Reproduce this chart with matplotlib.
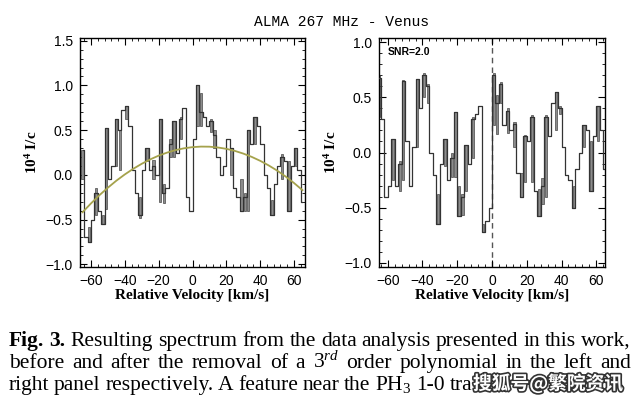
import numpy as np
import matplotlib
matplotlib.use("Agg")
import matplotlib.pyplot as plt
import matplotlib.patheffects as pe
from matplotlib.ticker import MultipleLocator

plt.rcParams['font.family'] = ['Liberation Sans', 'DejaVu Sans']
plt.rcParams['mathtext.fontset'] = 'custom'
plt.rcParams['mathtext.rm'] = 'Liberation Serif'
plt.rcParams['mathtext.it'] = 'Liberation Serif:italic'
plt.rcParams['mathtext.bf'] = 'Liberation Serif:bold'

# channel grid (km/s)
velocity = np.arange(-65, 66, 2)

# left panel: spectrum before polynomial removal
left_flux = [0.28, -0.70, -0.75, -0.50, -0.20, -0.40, -0.55, 0.52, -0.05, 0.10,
             0.63, 0.50, 0.72, 0.77, 0.55, 0.05, -0.20, -0.45, 0.05, 0.30,
             0.05, 0.10, 0.00, 0.62, -0.20, -0.15, 0.35, 0.60, 0.25, 0.62,
             0.75, -0.25, -0.40, 0.40, 1.00, 0.70, 0.65, 0.55, 0.60, 0.45,
             0.20, 0.00, 0.10, 0.40, 0.30, -0.15, -0.25, -0.40, -0.25, 0.50,
             0.35, 0.65, 0.55, 0.35, 0.00, -0.15, -0.45, -0.10, 0.10, 0.20,
             0.15, -0.40, 0.10, 0.30, 0.05, -0.30]
left_bar_v = [-65, -61, -57, -53, -51, -45, -43, -39, -31, -27, -23, -19, -17, -13, -11,
              -7, 3, 5, 11, 13, 23, 29, 31, 33, 37, 47, 53, 57, 61]
left_bar_lo = [-0.05, -0.75, -0.45, -0.55, -0.38, 0.10, 0.05, 0.62, -0.48, 0.15, -0.05, -0.30,
               -0.32, 0.20, 0.20, 0.40, 0.55, 0.55, 0.48, 0.30, 0.00, -0.40, -0.40, -0.40,
               0.35, -0.45, -0.05, -0.40, 0.10]
left_bar_hi = [0.28, -0.58, -0.15, -0.45, 0.52, 0.63, 0.50, 0.77, -0.25, 0.30, 0.17, 0.62,
               -0.10, 0.40, 0.60, 0.65, 1.00, 0.92, 0.62, 0.50, 0.30, -0.05, -0.20, 0.50,
               0.65, -0.28, 0.23, 0.15, 0.30]

# 3rd order polynomial baseline
poly_v = np.arange(-65, 66, 5)
poly_flux = [-0.418, -0.319, -0.227, -0.143, -0.065, 0.005, 0.068, 0.124, 0.173, 0.215,
             0.249, 0.277, 0.297, 0.310, 0.316, 0.315, 0.306, 0.291, 0.268, 0.238,
             0.201, 0.157, 0.106, 0.048, -0.018, -0.091, -0.171]

# right panel: after polynomial removal
right_flux = [0.68, 0.30, -0.40, -0.30, 0.12, -0.30, -0.10, 0.65, 0.10, -0.30,
              0.05, 0.67, 0.40, 0.70, 0.60, 0.00, -0.20, -0.65, -0.10, 0.12,
              -0.25, -0.05, 0.37, -0.58, -0.40, 0.07, -0.10, 0.30, 0.35, 0.42,
              -0.72, -0.62, -0.50, 0.70, 0.45, 0.62, 0.25, 0.38, 0.20, 0.26,
              -0.19, -0.40, 0.15, 0.10, 0.32, -0.35, -0.58, -0.30, 0.32, 0.15,
              0.45, 0.55, 0.40, 0.05, -0.20, -0.25, -0.50, -0.15, 0.00, 0.25,
              0.20, -0.35, 0.15, 0.42, 0.20, -0.15]
right_bar_v = [-65, -57, -53, -51, -43, -39, -37, -31, -27, -23, -21, -19, -17, -15, -11,
               -5, 1, 3, 5, 9, 13, 17, 19, 23, 27, 29, 31, 37, 39, 47, 53, 57, 61]
right_bar_lo = [0.32, -0.25, -0.35, -0.25, 0.05, 0.50, 0.45, -0.65, -0.12, -0.22, -0.22, -0.58,
                -0.57, -0.35, -0.05, -0.72, 0.25, 0.17, 0.45, 0.18, 0.05, -0.40, -0.27, -0.27,
                -0.58, -0.47, -0.40, 0.20, 0.35, -0.50, 0.05, -0.35, 0.10]
right_bar_hi = [0.70, 0.12, -0.08, 0.66, 0.67, 0.72, 0.62, -0.38, 0.12, 0.00, 0.37, -0.30,
                -0.38, 0.07, 0.32, -0.65, 0.72, 0.52, 0.64, 0.40, 0.28, -0.19, 0.16, 0.34,
                -0.33, -0.23, 0.34, 0.55, 0.42, -0.30, 0.25, 0.10, 0.42]

caption_lines = [
    'Fig. 3. Resulting spectrum from the data analysis presented in this work,',
    r'before and after the removal of a 3$^{rd}$ order polynomial in the left and',
    r'right panel respectively. A feature near the PH$_3$ 1-0 tra',
]
watermark = '搜狐号@繁院资讯'

fig = plt.figure(figsize=(6.4, 4.04), dpi=100)
ax1 = fig.add_axes([80 / 640, 1 - 267 / 404, 225 / 640, 229 / 404])
ax2 = fig.add_axes([379 / 640, 1 - 267 / 404, 226 / 640, 229 / 404])

lab_font = dict(family='Liberation Serif', fontsize=11, fontweight='bold')
fmt = plt.FuncFormatter(lambda v, p: f'{v:.1f}'.replace('-', '\u2212'))


def draw_spectrum(ax, flux, bv, blo, bhi):
    heights = np.array(bhi) - np.array(blo)
    ax.bar(bv, heights, bottom=blo, width=1.3, color='#8c8c8c',
           edgecolor='#3a3a3a', linewidth=0.45, zorder=2)
    ax.step(velocity, flux, where='mid', color='#333333', lw=0.9, zorder=3)
    ax.xaxis.set_major_locator(MultipleLocator(20))
    ax.xaxis.set_minor_locator(MultipleLocator(4))
    ax.yaxis.set_major_locator(MultipleLocator(0.5))
    ax.yaxis.set_minor_locator(MultipleLocator(0.1))
    ax.yaxis.set_major_formatter(fmt)
    ax.tick_params(which='both', direction='in', top=True, right=True,
                   labelsize=10, pad=5)
    ax.tick_params(which='major', length=5, width=0.8)
    ax.tick_params(which='minor', length=2.5, width=0.6)
    for s in ax.spines.values():
        s.set_linewidth(1.0)
    ax.set_xlabel('Relative Velocity [km/s]', labelpad=1, **lab_font)
    ax.set_ylabel(r'10$^{\mathbf{4}}$ I/c', labelpad=4, **lab_font)


draw_spectrum(ax1, left_flux, left_bar_v, left_bar_lo, left_bar_hi)
ax1.plot(poly_v, poly_flux, color='#a5a24c', lw=1.3, zorder=4)
ax1.set_xlim(-66.5, 66.5)
ax1.set_ylim(-1.03, 1.53)

draw_spectrum(ax2, right_flux, right_bar_v, right_bar_lo, right_bar_hi)
ax2.axvline(0, color='#555555', lw=1.0, ls=(0, (4, 3)), zorder=1)
ax2.set_xlim(-65, 65)
ax2.set_ylim(-1.04, 1.04)
ax2.text(0.04, 0.96, 'SNR=2.0', transform=ax2.transAxes, fontsize=7.5,
         fontweight='bold', va='top', ha='left')

fig.text(342 / 640, 1 - 22 / 404, 'ALMA 267 MHz - Venus', ha='center', va='center',
         family='Liberation Mono', fontsize=10.5)

# caption, justified word by word between x0 and x1 (pixels)
renderer = fig.canvas.get_renderer()
x0, x1 = 9, 631
baselines = [346, 368, 390]
line_end = x0
for i, (line, yb) in enumerate(zip(caption_lines, baselines)):
    words = line.split(' ')
    arts = []
    for j, w in enumerate(words):
        bold = (i == 0 and j < 2)
        arts.append(fig.text(0, 1 - yb / 404, w, family='Liberation Serif', fontsize=15.5,
                             fontweight='bold' if bold else 'normal', va='baseline', ha='left'))
    widths = [a.get_window_extent(renderer).width for a in arts]
    if i < 2:
        gap = (x1 - x0 - sum(widths)) / (len(words) - 1)
    else:
        gap = 4.6
    x = x0
    for a, w in zip(arts, widths):
        a.set_x(x / 640)
        x += w + gap
    line_end = x - gap

fig.text((line_end + 1) / 640, 1 - 384 / 404, watermark, ha='left', va='center',
         family=['Noto Sans CJK SC', 'DejaVu Sans'], fontsize=13.5, color='white',
         fontweight='bold',
         path_effects=[pe.withStroke(linewidth=2.4, foreground='#333333')])

fig.savefig('out.png', dpi=100)
